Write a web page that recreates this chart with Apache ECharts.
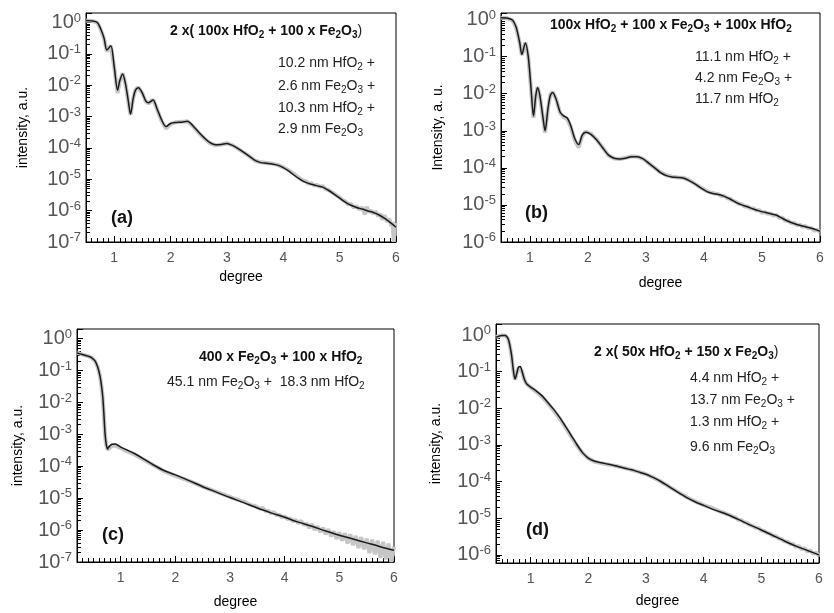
<!DOCTYPE html>
<html><head><meta charset="utf-8">
<script src="https://cdn.jsdelivr.net/npm/echarts@6/dist/echarts.min.js"></script>
<style>html,body{margin:0;padding:0;background:#fff}#c{width:834px;height:613px}</style>
</head><body><div id="c"></div>
<script>
// ---------- data (x in degree, intensity given as log10 exponent) ----------
// panel (a)
const aFitX = [0.50,0.60,0.70,0.76,0.82,0.87,0.94,1.00,1.06,1.10,1.15,1.20,1.25,1.29,1.34,1.38,1.43,1.50,1.56,1.61,1.69,1.76,1.84,1.92,2.00,2.10,2.20,2.30,2.40,2.50,2.60,2.70,2.80,2.90,3.00,3.10,3.20,3.30,3.40,3.50,3.60,3.70,3.80,3.90,4.00,4.10,4.20,4.30,4.40,4.50,4.60,4.70,4.80,4.90,5.00,5.10,5.20,5.30,5.40,5.50,5.60,5.70,5.80,5.90,6.00];
const aFitLog = [0.06,0.05,0.00,-0.20,-0.50,-0.88,-0.74,-1.40,-2.16,-1.85,-1.64,-1.95,-2.50,-2.92,-2.40,-2.15,-2.08,-2.25,-2.50,-2.56,-2.47,-2.75,-3.10,-3.32,-3.22,-3.19,-3.18,-3.15,-3.30,-3.50,-3.68,-3.83,-3.90,-3.89,-3.86,-3.92,-4.02,-4.14,-4.27,-4.40,-4.47,-4.49,-4.51,-4.55,-4.63,-4.74,-4.88,-5.00,-5.10,-5.16,-5.21,-5.25,-5.35,-5.47,-5.60,-5.73,-5.83,-5.90,-5.95,-6.01,-6.06,-6.14,-6.25,-6.38,-6.53];
const aMeasX = [0.50,0.60,0.70,0.76,0.82,0.87,0.94,1.00,1.06,1.10,1.15,1.20,1.25,1.29,1.34,1.38,1.43,1.50,1.56,1.61,1.69,1.76,1.84,1.92,2.00,2.10,2.20,2.30,2.40,2.50,2.60,2.70,2.80,2.90,3.00,3.10,3.20,3.30,3.40,3.50,3.60,3.70,3.80,3.90,4.00,4.10,4.15,4.20,4.25,4.30,4.35,4.40,4.45,4.50,4.55,4.60,4.65,4.70,4.75,4.80,4.85,4.90,4.95,5.00,5.05,5.10,5.15,5.20,5.25,5.30,5.35,5.40,5.45,5.48,5.52,5.56,5.60,5.64,5.68,5.72,5.76,5.80,5.84,5.88,5.92,5.94,5.96,5.98,6.00];
const aMeasLog = [0.06,0.05,0.00,-0.22,-0.52,-0.92,-0.74,-1.42,-2.25,-1.87,-1.62,-1.95,-2.52,-2.95,-2.40,-2.14,-2.07,-2.26,-2.52,-2.58,-2.46,-2.76,-3.14,-3.38,-3.24,-3.18,-3.17,-3.15,-3.31,-3.52,-3.70,-3.85,-3.92,-3.89,-3.85,-3.92,-4.03,-4.15,-4.27,-4.41,-4.46,-4.48,-4.50,-4.54,-4.62,-4.72,-4.78,-4.84,-4.92,-4.98,-5.04,-5.06,-5.14,-5.13,-5.20,-5.18,-5.24,-5.22,-5.31,-5.34,-5.40,-5.46,-5.52,-5.58,-5.66,-5.70,-5.80,-5.78,-5.90,-5.86,-5.96,-5.90,-6.12,-5.88,-6.05,-6.00,-6.10,-6.02,-6.18,-6.10,-6.28,-6.15,-6.36,-6.25,-6.50,-6.35,-7.00,-6.42,-6.48];
// panel (b)
const bFitX = [0.50,0.60,0.70,0.76,0.82,0.86,0.92,0.97,1.02,1.06,1.10,1.13,1.17,1.22,1.26,1.31,1.35,1.39,1.45,1.52,1.58,1.64,1.70,1.77,1.84,1.90,1.96,2.05,2.15,2.25,2.35,2.45,2.55,2.65,2.75,2.85,2.95,3.05,3.15,3.25,3.35,3.45,3.55,3.65,3.75,3.85,3.95,4.05,4.15,4.25,4.35,4.45,4.55,4.65,4.75,4.85,4.95,5.05,5.15,5.25,5.35,5.45,5.55,5.65,5.75,5.85,5.95,6.00];
const bFitLog = [0.05,0.04,-0.02,-0.20,-0.60,-0.94,-0.63,-1.00,-1.90,-2.60,-2.05,-1.84,-2.05,-2.60,-3.00,-2.40,-2.05,-1.97,-2.15,-2.50,-2.60,-2.65,-2.85,-3.20,-3.37,-3.12,-3.04,-3.10,-3.25,-3.45,-3.65,-3.74,-3.76,-3.74,-3.70,-3.70,-3.76,-3.88,-4.00,-4.13,-4.21,-4.25,-4.26,-4.28,-4.35,-4.44,-4.55,-4.64,-4.69,-4.72,-4.77,-4.84,-4.93,-5.00,-5.05,-5.11,-5.16,-5.20,-5.24,-5.28,-5.36,-5.44,-5.50,-5.55,-5.59,-5.63,-5.68,-5.71];
const bMeasX = [0.50,0.60,0.70,0.76,0.82,0.86,0.92,0.97,1.02,1.06,1.10,1.13,1.17,1.22,1.26,1.31,1.35,1.39,1.45,1.52,1.58,1.64,1.70,1.77,1.84,1.90,1.96,2.05,2.15,2.25,2.35,2.45,2.55,2.65,2.75,2.85,2.95,3.05,3.15,3.25,3.35,3.45,3.55,3.65,3.75,3.85,3.95,4.00,4.05,4.10,4.15,4.20,4.25,4.30,4.35,4.40,4.45,4.50,4.55,4.60,4.65,4.70,4.75,4.80,4.85,4.90,4.95,5.00,5.05,5.10,5.15,5.20,5.25,5.30,5.35,5.40,5.45,5.50,5.55,5.60,5.65,5.70,5.75,5.80,5.85,5.90,5.95,6.00];
const bMeasLog = [0.05,0.04,-0.02,-0.21,-0.62,-0.96,-0.62,-1.00,-1.92,-2.65,-2.05,-1.82,-2.05,-2.62,-3.05,-2.40,-2.03,-1.95,-2.14,-2.52,-2.63,-2.68,-2.88,-3.25,-3.45,-3.14,-3.02,-3.08,-3.24,-3.45,-3.66,-3.75,-3.76,-3.73,-3.69,-3.70,-3.76,-3.88,-4.00,-4.12,-4.20,-4.24,-4.26,-4.27,-4.34,-4.44,-4.54,-4.58,-4.63,-4.66,-4.68,-4.70,-4.71,-4.76,-4.76,-4.82,-4.83,-4.89,-4.92,-4.97,-4.98,-5.04,-5.04,-5.10,-5.09,-5.15,-5.14,-5.21,-5.19,-5.24,-5.23,-5.29,-5.27,-5.35,-5.34,-5.43,-5.42,-5.49,-5.48,-5.55,-5.53,-5.59,-5.57,-5.63,-5.62,-5.69,-5.67,-5.73];
// panel (c)
const cFitX = [0.20,0.30,0.40,0.47,0.53,0.58,0.62,0.65,0.67,0.69,0.71,0.73,0.76,0.79,0.84,0.90,1.00,1.10,1.25,1.40,1.60,1.80,2.00,2.25,2.50,2.75,3.00,3.25,3.50,3.75,4.00,4.25,4.50,4.75,5.00,5.25,5.50,5.75,6.00];
const cFitLog = [-0.45,-0.50,-0.55,-0.60,-0.70,-0.90,-1.17,-1.50,-1.80,-2.30,-2.90,-3.25,-3.46,-3.38,-3.31,-3.30,-3.40,-3.48,-3.60,-3.75,-3.96,-4.14,-4.27,-4.45,-4.64,-4.81,-4.98,-5.14,-5.31,-5.46,-5.60,-5.75,-5.88,-6.03,-6.16,-6.28,-6.40,-6.52,-6.63];
const cMeasX = [0.20,0.30,0.40,0.47,0.53,0.58,0.62,0.65,0.67,0.69,0.71,0.73,0.76,0.79,0.84,0.90,1.00,1.10,1.25,1.40,1.60,1.80,2.00,2.25,2.50,2.75,3.00,3.05,3.10,3.15,3.20,3.25,3.30,3.35,3.40,3.45,3.50,3.55,3.60,3.65,3.70,3.75,3.80,3.85,3.90,3.95,4.00,4.05,4.10,4.15,4.20,4.25,4.30,4.35,4.40,4.45,4.50,4.55,4.60,4.65,4.70,4.75,4.80,4.85,4.90,4.95,5.00,5.05,5.10,5.15,5.20,5.25,5.30,5.35,5.40,5.45,5.50,5.55,5.60,5.65,5.70,5.75,5.80,5.85,5.90,5.95,6.00];
const cMeasLog = [-0.44,-0.50,-0.55,-0.60,-0.70,-0.90,-1.17,-1.52,-1.85,-2.35,-2.95,-3.30,-3.48,-3.42,-3.36,-3.35,-3.43,-3.52,-3.63,-3.77,-3.97,-4.16,-4.30,-4.46,-4.64,-4.80,-4.96,-5.00,-5.02,-5.05,-5.09,-5.11,-5.15,-5.19,-5.23,-5.24,-5.29,-5.33,-5.31,-5.41,-5.39,-5.47,-5.44,-5.53,-5.52,-5.60,-5.57,-5.66,-5.63,-5.72,-5.68,-5.79,-5.71,-5.84,-5.80,-5.93,-5.82,-5.99,-5.88,-6.06,-5.93,-6.13,-5.97,-6.19,-6.04,-6.27,-6.07,-6.33,-6.10,-6.42,-6.13,-6.47,-6.18,-6.56,-6.22,-6.60,-6.27,-6.72,-6.30,-6.76,-6.33,-6.87,-6.37,-6.92,-6.42,-7.00,-6.52];
// panel (d)
const dFitX = [0.40,0.45,0.50,0.56,0.61,0.64,0.67,0.70,0.73,0.76,0.79,0.82,0.85,0.89,0.93,1.00,1.10,1.20,1.30,1.40,1.50,1.60,1.70,1.80,1.90,2.00,2.10,2.20,2.30,2.40,2.50,2.60,2.70,2.80,2.90,3.00,3.10,3.25,3.40,3.55,3.70,3.85,4.00,4.20,4.40,4.60,4.80,5.00,5.20,5.40,5.60,5.80,6.00];
const dFitLog = [-0.06,-0.03,-0.01,-0.01,-0.10,-0.28,-0.55,-0.95,-1.20,-1.05,-0.88,-0.86,-0.98,-1.20,-1.33,-1.42,-1.53,-1.66,-1.84,-2.03,-2.24,-2.48,-2.73,-2.98,-3.21,-3.36,-3.44,-3.48,-3.51,-3.54,-3.58,-3.62,-3.66,-3.70,-3.75,-3.80,-3.87,-3.99,-4.14,-4.29,-4.43,-4.55,-4.65,-4.78,-4.89,-5.03,-5.18,-5.32,-5.47,-5.62,-5.76,-5.88,-6.00];
const dMeasX = [0.40,0.45,0.50,0.56,0.61,0.64,0.67,0.70,0.73,0.76,0.79,0.82,0.85,0.89,0.93,1.00,1.10,1.20,1.30,1.40,1.50,1.60,1.70,1.80,1.90,2.00,2.10,2.20,2.30,2.40,2.50,2.60,2.70,2.80,2.90,3.00,3.10,3.25,3.40,3.55,3.70,3.85,4.00,4.05,4.10,4.15,4.20,4.25,4.30,4.35,4.40,4.45,4.50,4.55,4.60,4.65,4.70,4.75,4.80,4.85,4.90,4.95,5.00,5.05,5.10,5.15,5.20,5.25,5.30,5.35,5.40,5.45,5.50,5.55,5.60,5.65,5.70,5.75,5.80,5.85,5.90,5.95,6.00];
const dMeasLog = [-0.06,-0.03,-0.01,-0.01,-0.10,-0.29,-0.58,-0.98,-1.22,-1.05,-0.88,-0.87,-0.99,-1.21,-1.33,-1.43,-1.55,-1.69,-1.87,-2.06,-2.27,-2.51,-2.76,-3.01,-3.22,-3.36,-3.45,-3.49,-3.52,-3.55,-3.58,-3.62,-3.66,-3.70,-3.75,-3.80,-3.87,-3.99,-4.14,-4.28,-4.42,-4.54,-4.64,-4.67,-4.69,-4.72,-4.76,-4.79,-4.83,-4.85,-4.89,-4.91,-4.96,-4.98,-5.04,-5.05,-5.11,-5.12,-5.18,-5.21,-5.26,-5.27,-5.33,-5.35,-5.40,-5.42,-5.48,-5.49,-5.55,-5.57,-5.63,-5.64,-5.70,-5.70,-5.78,-5.76,-5.84,-5.82,-5.91,-5.88,-5.97,-5.94,-6.02];

// ---------------------------------------------------------------------------
const F = '"Liberation Sans", Arial, Helvetica, sans-serif';
const pairs = (xs, ls) => xs.map((x, i) => [x, Math.pow(10, ls[i])]);

const grids = [
  {left: 86, top: 13, width: 310, height: 229},
  {left: 501, top: 13, width: 319, height: 229},
  {left: 77, top: 329, width: 317, height: 233},
  {left: 496, top: 324, width: 323, height: 239}
];
const xMins = [0.5, 0.5, 0.2, 0.4];
const yMins = [1e-7, 1e-6, 1e-7, 6e-7];
const yMaxs = [2, 1.5, 2, 2];
const yNames = ['intensity, a.u.', 'Intensity, a. u.', 'intensity, a.u.', 'intensity, a.u.'];
const yNameGaps = [56, 56, 52, 53];
const xNameGaps = [28, 34, 33, 31];

const xAxes = grids.map((g, i) => ({
  type: 'value', gridIndex: i, min: xMins[i], max: 6, splitNumber: 5,
  name: 'degree', nameLocation: 'middle', nameGap: xNameGaps[i],
  nameTextStyle: {fontFamily: F, fontSize: 14},
  axisLine: {show: true, lineStyle: {color: '#000', width: 1}},
  axisTick: {show: true, inside: true, length: 6, lineStyle: {color: '#000'}},
  minorTick: {show: true, splitNumber: 10, length: 4, lineStyle: {color: '#000'}},
  splitLine: {show: false},
  axisLabel: {fontFamily: F, fontSize: 14, margin: 9,
    formatter: v => (Number.isInteger(v) ? String(v) : '')}
}));

const yAxes = grids.map((g, i) => ({
  type: 'log', logBase: 10, gridIndex: i, min: yMins[i], max: yMaxs[i],
  name: yNames[i], nameLocation: 'middle', nameRotate: 90, nameGap: yNameGaps[i],
  nameTextStyle: {fontFamily: F, fontSize: 14},
  axisLine: {show: true, lineStyle: {color: '#000', width: 1}},
  axisTick: {show: true, inside: true, length: 6, lineStyle: {color: '#000'}},
  minorTick: {show: true, splitNumber: 9, length: 4, lineStyle: {color: '#000'}},
  splitLine: {show: false},
  axisLabel: {margin: 5,
    formatter: v => {
      const e = Math.round(Math.log10(v));
      if (Math.abs(v / Math.pow(10, e) - 1) > 1e-6) return '';
      return '{b|10}{s|' + e + '}';
    },
    rich: {
      b: {fontFamily: F, fontSize: 20, lineHeight: 22},
      s: {fontFamily: F, fontSize: 13, lineHeight: 12, verticalAlign: 'top'}
    }
  }
}));

const sets = [[aMeasX, aMeasLog, aFitX, aFitLog], [bMeasX, bMeasLog, bFitX, bFitLog],
              [cMeasX, cMeasLog, cFitX, cFitLog], [dMeasX, dMeasLog, dFitX, dFitLog]];
const series = [];
sets.forEach((s, i) => {
  series.push({type: 'line', xAxisIndex: i, yAxisIndex: i, data: pairs(s[0], s[1]),
    showSymbol: false, smooth: false, lineStyle: {color: '#c6c6c6', width: 4}, z: 2, silent: true});
  series.push({type: 'line', xAxisIndex: i, yAxisIndex: i, data: pairs(s[2], s[3]),
    showSymbol: false, smooth: 0.3, lineStyle: {color: '#1a1a1a', width: 1.5}, z: 3, silent: true});
});

// texts as title components (rich text with subscripts)
const richT = {
  t: {fontFamily: F, fontSize: 14, fontWeight: 'bold', lineHeight: 18, color: '#111'},
  ts: {fontFamily: F, fontSize: 10, fontWeight: 'bold', lineHeight: 10, verticalAlign: 'bottom', color: '#111'},
  n: {fontFamily: F, fontSize: 14, fontWeight: 'normal', lineHeight: 18, color: '#222'},
  ns: {fontFamily: F, fontSize: 10, fontWeight: 'normal', lineHeight: 10, verticalAlign: 'bottom', color: '#222'},
  p: {fontFamily: F, fontSize: 18, fontWeight: 'bold', lineHeight: 20, color: '#111'}
};
const lbl = (left, top, text) => ({text: text, left: left, top: top, padding: 0, itemGap: 0,
  textStyle: {fontFamily: F, fontSize: 14, fontWeight: 'normal', lineHeight: 18, rich: richT}});

const titles = [
  lbl(170, 22, '{t|2 x( 100x HfO}{ts|2}{t| + 100 x Fe}{ts|2}{t|O}{ts|3}{n|)}'),
  lbl(278, 54, '{n|10.2 nm HfO}{ns|2}{n| +}'),
  lbl(278, 77, '{n|2.6 nm Fe}{ns|2}{n|O}{ns|3}{n| +}'),
  lbl(278, 99, '{n|10.3 nm HfO}{ns|2}{n| +}'),
  lbl(278, 120, '{n|2.9 nm Fe}{ns|2}{n|O}{ns|3}'),
  lbl(111, 208, '{p|(a)}'),

  lbl(550, 16, '{t|100x HfO}{ts|2}{t| + 100 x Fe}{ts|2}{t|O}{ts|3}{t| + 100x HfO}{ts|2}'),
  lbl(695, 48, '{n|11.1 nm HfO}{ns|2}{n| +}'),
  lbl(695, 69, '{n|4.2 nm Fe}{ns|2}{n|O}{ns|3}{n| +}'),
  lbl(695, 90, '{n|11.7 nm HfO}{ns|2}'),
  lbl(525, 203, '{p|(b)}'),

  lbl(199, 348, '{t|400 x Fe}{ts|2}{t|O}{ts|3}{t| + 100 x HfO}{ts|2}'),
  lbl(167, 373, '{n|45.1 nm Fe}{ns|2}{n|O}{ns|3}{n| +  18.3 nm HfO}{ns|2}'),
  lbl(102, 525, '{p|(c)}'),

  lbl(594, 343, '{t|2 x( 50x HfO}{ts|2}{t| + 150 x Fe}{ts|2}{t|O}{ts|3}{n|)}'),
  lbl(690, 369, '{n|4.4 nm HfO}{ns|2}{n| +}'),
  lbl(690, 391, '{n|13.7 nm Fe}{ns|2}{n|O}{ns|3}{n| +}'),
  lbl(690, 413, '{n|1.3 nm HfO}{ns|2}{n| +}'),
  lbl(690, 438, '{n|9.6 nm Fe}{ns|2}{n|O}{ns|3}'),
  lbl(526, 520, '{p|(d)}')
];

const chart = echarts.init(document.getElementById('c'), null, {renderer: 'canvas'});
chart.setOption({
  animation: false,
  backgroundColor: '#fff',
  title: titles,
  grid: grids.map(g => Object.assign({show: true, borderColor: '#000', borderWidth: 1, backgroundColor: 'transparent'}, g)),
  xAxis: xAxes,
  yAxis: yAxes,
  series: series
});
</script></body></html>
